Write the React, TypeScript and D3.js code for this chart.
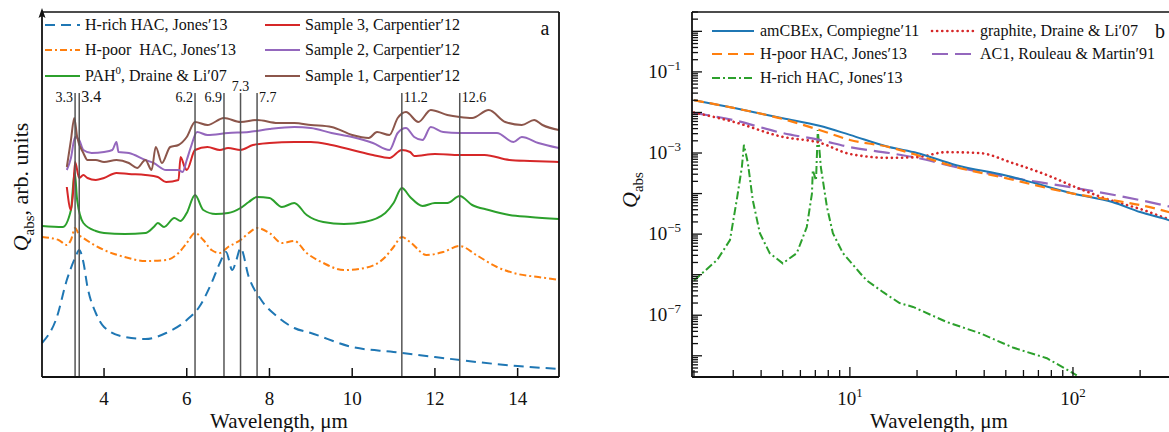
import React from 'react';
import * as d3 from 'd3';

const FONT = 'Liberation Serif';

// ---------- panel a (arb. units, curves offset) ----------
const bandCenters = [3.3, 3.4, 6.2, 6.9, 7.3, 7.7, 11.2, 12.6];
const bandLabels = ['3.3', '3.4', '6.2', '6.9', '7.3', '7.7', '11.2', '12.6'];
const xTicksA = [4, 6, 8, 10, 12, 14];

const hRichWl = [2.5, 2.86, 3.1, 3.3, 3.4, 3.5, 3.6, 3.8, 4.0, 4.5, 5.0, 5.5, 6.0, 6.3, 6.6, 6.8, 6.95, 7.1, 7.2, 7.3, 7.5, 7.8, 8.2, 8.6, 9.0, 10, 11, 12, 13, 14, 15];
const hRichVal = [3.4, 6.0, 9.7, 11.9, 12.7, 11.5, 9.0, 6.4, 5.0, 4.0, 3.8, 4.4, 5.7, 7.0, 9.4, 11.4, 12.5, 10.7, 11.7, 12.9, 10.0, 7.7, 6.0, 4.9, 4.4, 3.0, 2.5, 2.0, 1.5, 1.1, 0.8];

const hPoorWl = [2.5, 2.9, 3.1, 3.2, 3.3, 3.4, 3.5, 4.0, 4.5, 5.0, 5.5, 5.8, 6.0, 6.2, 6.4, 6.6, 6.8, 7.0, 7.3, 7.5, 7.7, 8.0, 8.3, 8.6, 8.9, 9.3, 9.8, 10.3, 10.8, 11.0, 11.2, 11.4, 11.8, 12.2, 12.6, 13.0, 13.5, 14.0, 14.5, 15.0];
const hPoorVal = [14.0, 13.7, 13.2, 13.7, 14.9, 14.2, 13.9, 12.7, 12.0, 11.6, 11.7, 12.4, 13.4, 14.4, 13.7, 12.7, 12.4, 13.0, 13.7, 14.4, 14.9, 14.4, 13.4, 13.6, 12.4, 11.4, 10.7, 10.9, 12.0, 13.0, 14.0, 13.5, 12.2, 12.5, 13.1, 12.2, 11.0, 10.3, 10.0, 9.7];

const pahWl = [2.5, 3.0, 3.2, 3.29, 3.35, 3.5, 3.8, 4.0, 4.5, 5.0, 5.2, 5.3, 5.45, 5.7, 5.85, 6.0, 6.2, 6.4, 6.7, 7.0, 7.3, 7.5, 7.7, 8.0, 8.3, 8.6, 8.9, 9.3, 9.8, 10.3, 10.8, 11.0, 11.2, 11.4, 11.7, 12.0, 12.3, 12.6, 12.9, 13.3, 13.8, 14.3, 15.0];
const pahVal = [15.1, 15.0, 16.7, 20.5, 17.7, 15.4, 14.6, 14.4, 14.3, 14.4, 15.0, 15.4, 15.0, 15.9, 15.6, 16.4, 18.2, 16.7, 16.3, 16.4, 16.9, 17.5, 18.0, 17.9, 17.0, 17.4, 16.2, 15.5, 15.3, 15.5, 16.4, 17.4, 18.9, 18.0, 17.1, 17.4, 17.4, 18.1, 17.2, 16.7, 16.2, 16.0, 15.8];

const sample3Wl = [3.1, 3.2, 3.25, 3.3, 3.4, 3.5, 3.6, 3.8, 4.0, 4.3, 4.6, 5.0, 5.3, 5.5, 5.8, 5.85, 5.95, 6.0, 6.2, 6.5, 6.8, 7.0, 7.3, 7.6, 8.0, 8.6, 9.0, 9.5, 10.0, 10.5, 10.9, 11.2, 11.4, 11.5, 12.0, 12.6, 13.2, 13.8, 14.3, 15.0];
const sample3Val = [19.0, 16.7, 18.4, 21.5, 19.9, 20.2, 19.9, 19.7, 19.9, 20.4, 20.3, 20.2, 20.0, 19.5, 19.7, 22.0, 21.0, 20.7, 22.7, 23.0, 22.7, 22.9, 22.7, 23.2, 23.4, 23.5, 23.5, 23.2, 22.7, 22.2, 21.9, 22.7, 22.5, 22.1, 22.3, 22.2, 22.2, 21.7, 21.6, 21.5];

const sample2Wl = [3.1, 3.2, 3.3, 3.4, 3.5, 3.7, 4.0, 4.2, 4.3, 4.35, 4.6, 5.0, 5.2, 5.5, 5.8, 5.9, 6.0, 6.1, 6.25, 6.5, 7.0, 7.5, 8.0, 8.6, 9.0, 9.5, 10.0, 10.5, 10.9, 11.1, 11.3, 11.5, 11.7, 11.9, 12.2, 12.6, 13.0, 13.5, 13.9, 14.1, 14.5, 15.0];
const sample2Val = [20.7, 21.9, 24.0, 23.7, 22.7, 22.4, 22.5, 22.7, 23.5, 22.5, 22.4, 21.7, 21.4, 20.7, 20.7, 20.5, 21.7, 23.0, 24.5, 24.2, 24.4, 24.5, 24.8, 25.0, 24.9, 24.4, 24.0, 23.4, 22.7, 24.4, 24.9, 24.0, 23.7, 25.0, 24.5, 24.4, 24.4, 24.4, 23.5, 24.0, 23.4, 22.9];

const sample1Wl = [3.1, 3.2, 3.28, 3.35, 3.5, 3.6, 3.8, 4.0, 4.3, 4.6, 4.8, 5.0, 5.15, 5.25, 5.4, 5.6, 5.8, 6.0, 6.2, 6.5, 6.9, 7.3, 7.7, 8.2, 8.6, 9.0, 9.5, 10.0, 10.4, 10.6, 10.9, 11.1, 11.3, 11.6, 11.9, 12.3, 12.6, 12.9, 13.3, 13.7, 14.1, 14.4, 14.6, 15.0];
const sample1Val = [21.0, 23.7, 25.9, 24.0, 22.4, 21.7, 21.7, 21.5, 21.7, 21.4, 20.9, 21.7, 20.7, 23.0, 21.4, 23.0, 23.2, 24.0, 25.5, 25.2, 25.9, 25.5, 25.7, 25.4, 25.4, 25.2, 25.0, 24.2, 23.9, 24.5, 24.2, 25.9, 26.5, 25.5, 26.7, 26.2, 26.0, 25.9, 26.7, 25.5, 25.2, 25.7, 25.2, 24.7];

// ---------- panel b (Q_abs, log-log) ----------
const amcbeWl = [2, 3, 5, 7.3, 10, 15, 20, 30, 50, 100, 150, 200, 270, 300];
const amcbeQ = [2.0e-2, 1.3e-2, 7.2e-3, 4.7e-3, 2.8e-3, 1.4e-3, 1.0e-3, 5.0e-4, 2.8e-4, 1.0e-4, 6.2e-5, 3.5e-5, 2.2e-5, 1.8e-5];

const hPoorBWl = [2, 3, 5, 7.3, 10, 15, 20, 30, 50, 100, 150, 200, 300];
const hPoorBQ = [2.0e-2, 1.3e-2, 6.9e-3, 3.7e-3, 2.1e-3, 1.4e-3, 8.9e-4, 4.5e-4, 2.4e-4, 1.0e-4, 6.9e-5, 5.2e-5, 3.0e-5];

const hRichBWl = [2.0, 2.54, 2.9, 3.11, 3.28, 3.35, 3.49, 3.67, 3.95, 4.37, 5.0, 5.78, 6.41, 6.76, 6.82, 7.05, 7.18, 7.41, 7.89, 8.39, 9.31, 11.1, 11.9, 14.1, 16.7, 19.2, 27.2, 38.3, 53.8, 76.4, 104];
const hRichBQ = [7.2e-7, 2.3e-6, 7.1e-6, 6.9e-5, 4.5e-4, 1.6e-3, 5.6e-4, 6.9e-5, 1.05e-5, 3.4e-6, 1.9e-6, 3.4e-6, 1.5e-5, 1.0e-4, 3.8e-4, 2.1e-4, 3.7e-3, 4.5e-4, 4.7e-5, 1.05e-5, 3.4e-6, 1.1e-6, 7.2e-7, 3.7e-7, 2.0e-7, 1.6e-7, 6.8e-8, 3.6e-8, 1.6e-8, 8.7e-9, 3.3e-9];

const graphiteWl = [2, 3, 5, 7.3, 10, 15, 20, 27, 38, 54, 76, 104, 147, 208, 260, 300];
const graphiteQ = [1.0e-2, 5.9e-3, 2.5e-3, 1.8e-3, 9.5e-4, 7.6e-4, 7.9e-4, 1.05e-3, 1.0e-3, 5.6e-4, 2.9e-4, 1.4e-4, 6.9e-5, 3.9e-5, 2.5e-5, 2.0e-5];

const ac1Wl = [2, 3, 5, 7.3, 10, 15, 20, 30, 50, 100, 200, 300];
const ac1Q = [9.8e-3, 6.5e-3, 3.1e-3, 2.1e-3, 1.4e-3, 1.0e-3, 7.6e-4, 4.5e-4, 2.6e-4, 1.4e-4, 6.9e-5, 4.2e-5];

const yLabelExpB = [-7, -5, -3, -1];
const xLabelExpB = [1, 2];

const C = {
  blue: '#1f77b4', orange: '#ff7f0e', green: '#2ca02c',
  red: '#d62728', purple: '#9467bd', brown: '#8c564b',
};

type Part = { t: string; sup?: boolean; sub?: boolean; it?: boolean };

const Rich = ({ x = 0, y = 0, parts, size, anchor = 'start', transform }:
  { x?: number; y?: number; parts: Part[]; size: number; anchor?: string; transform?: string }) => {
  let shift = 0;
  return (
    <text x={x} y={y} fontFamily={FONT} fontSize={size} textAnchor={anchor} fill="#111" transform={transform}>
      {parts.map((p, i) => {
        const target = p.sup ? -0.42 * size : p.sub ? 0.28 * size : 0;
        const dy = target - shift;
        shift = target;
        return (
          <tspan key={i} dy={dy !== 0 ? dy : undefined}
            fontSize={p.sup || p.sub ? size * 0.68 : undefined}
            fontStyle={p.it ? 'italic' : undefined}>{p.t}</tspan>
        );
      })}
    </text>
  );
};

// scales
const xA = d3.scaleLinear().domain([2.5, 15]).range([42, 559]);
const yA = d3.scaleLinear().domain([0, 36.5]).range([377, 12]);
const xB = d3.scaleLog().domain([1.96, 300]).range([692, 1179.4]);
const yB = d3.scaleLog().domain([3e-9, 3]).range([377, 12]);

const lineA = d3.line<[number, number]>().x(d => xA(d[0])).y(d => yA(d[1])).curve(d3.curveMonotoneX);
const lineB = d3.line<[number, number]>().x(d => xB(d[0])).y(d => yB(d[1])).curve(d3.curveMonotoneX);
const lineBLin = d3.line<[number, number]>().x(d => xB(d[0])).y(d => yB(d[1]));

const zip = (a: number[], b: number[]) => a.map((v, i) => [v, b[i]] as [number, number]);

const seriesA = [
  { wl: hRichWl, v: hRichVal, color: C.blue, dash: '10,6' },
  { wl: hPoorWl, v: hPoorVal, color: C.orange, dash: '7,3,2,3' },
  { wl: pahWl, v: pahVal, color: C.green, dash: undefined },
  { wl: sample3Wl, v: sample3Val, color: C.red, dash: undefined },
  { wl: sample2Wl, v: sample2Val, color: C.purple, dash: undefined },
  { wl: sample1Wl, v: sample1Val, color: C.brown, dash: undefined },
];

const seriesB = [
  { wl: hRichBWl, q: hRichBQ, color: C.green, dash: '8,3,2,3', w: 2, cap: 'butt', lin: true },
  { wl: ac1Wl, q: ac1Q, color: C.purple, dash: '16,7', w: 2.2, cap: 'butt', lin: false },
  { wl: graphiteWl, q: graphiteQ, color: C.red, dash: '0.1,5', w: 2.6, cap: 'round', lin: false },
  { wl: amcbeWl, q: amcbeQ, color: C.blue, dash: undefined, w: 2, cap: 'butt', lin: false },
  { wl: hPoorBWl, q: hPoorBQ, color: C.orange, dash: '10,6', w: 2.2, cap: 'butt', lin: false },
];

const legA = [
  { x: 45, y: 25, color: C.blue, dash: '10,6', parts: [{ t: 'H-rich HAC, Jones′13' }] },
  { x: 45, y: 50, color: C.orange, dash: '7,3,2,3', parts: [{ t: 'H-poor\u00a0 HAC, Jones′13' }] },
  { x: 45, y: 76, color: C.green, dash: undefined, parts: [{ t: 'PAH' }, { t: '0', sup: true }, { t: ', Draine & Li′07' }] },
  { x: 265, y: 25, color: C.red, dash: undefined, parts: [{ t: 'Sample 3, Carpentier′12' }] },
  { x: 265, y: 50, color: C.purple, dash: undefined, parts: [{ t: 'Sample 2, Carpentier′12' }] },
  { x: 265, y: 76, color: C.brown, dash: undefined, parts: [{ t: 'Sample 1, Carpentier′12' }] },
];

const legB = [
  { x: 712, y: 31, color: C.blue, dash: undefined, w: 2, cap: 'butt', text: 'amCBEx, Compiegne′11' },
  { x: 712, y: 54, color: C.orange, dash: '10,6', w: 2.2, cap: 'butt', text: 'H-poor HAC, Jones′13' },
  { x: 712, y: 78, color: C.green, dash: '8,3,2,3', w: 2, cap: 'butt', text: 'H-rich HAC, Jones′13' },
  { x: 932, y: 31, color: C.red, dash: '0.1,5', w: 2.6, cap: 'round', text: 'graphite, Draine & Li′07' },
  { x: 932, y: 54, color: C.purple, dash: '16,7', w: 2.2, cap: 'butt', text: 'AC1, Rouleau & Martin′91' },
];

// log ticks
const yTicksB: { v: number; major: boolean }[] = [];
for (let e = -9; e <= 0; e++) {
  for (let k = 1; k <= 9; k++) {
    const v = k * Math.pow(10, e);
    if (v >= 3e-9 && v <= 3) yTicksB.push({ v, major: k === 1 });
  }
}
const xTicksB: { v: number; major: boolean }[] = [];
for (let e = 0; e <= 2; e++) {
  for (let k = 1; k <= 9; k++) {
    const v = k * Math.pow(10, e);
    if (v >= 1.96 && v <= 300) xTicksB.push({ v, major: k === 1 });
  }
}

const ink = '#111';

const App = () => (
  <svg width={1169} height={432} style={{ position: 'absolute', left: 0, top: 0, background: '#fff' }}
    fontFamily={FONT}>
    <defs>
      <clipPath id="clipA"><rect x={42} y={12} width={517} height={365} /></clipPath>
      <clipPath id="clipB"><rect x={692} y={12} width={490} height={365} /></clipPath>
    </defs>

    {/* ===== panel a ===== */}
    <g clipPath="url(#clipA)">
      {seriesA.map((s, i) => (
        <path key={i} d={lineA(zip(s.wl, s.v)) || ''} fill="none" stroke={s.color}
          strokeWidth={2} strokeDasharray={s.dash} />
      ))}
    </g>

    {bandCenters.map((b, i) => {
      const lab = bandLabels[i];
      let x = xA(b) + 2, y = 102, anchor = 'start', size = 14;
      if (lab === '3.3' || lab === '6.2' || lab === '6.9') { x = xA(b) - 2; anchor = 'end'; }
      if (lab === '3.4') size = 16;
      if (lab === '7.3') { x = xA(b); y = 91; anchor = 'middle'; }
      return (
        <g key={lab}>
          <line x1={xA(b)} x2={xA(b)} y1={377} y2={93} stroke="#555" strokeWidth={1.5} />
          <text x={x} y={y} fontFamily={FONT} fontSize={size} textAnchor={anchor} fill={ink}>{lab}</text>
        </g>
      );
    })}

    <line x1={42} x2={559} y1={377} y2={377} stroke={ink} strokeWidth={1.8} />
    <line x1={559} x2={559} y1={12} y2={377} stroke={ink} strokeWidth={1.8} />
    <line x1={42} x2={559} y1={12} y2={12} stroke={ink} strokeWidth={1.5} />
    <line x1={42} x2={42} y1={377} y2={14} stroke={ink} strokeWidth={1.8} />
    <path d="M42,8 L38.5,18 L42,16 L45.5,18 Z" fill={ink} />

    {xTicksA.map(t => (
      <g key={t}>
        <line x1={xA(t)} x2={xA(t)} y1={377} y2={368} stroke={ink} strokeWidth={1.5} />
        <text x={xA(t)} y={405} fontFamily={FONT} fontSize={19} textAnchor="middle" fill={ink}>{t}</text>
      </g>
    ))}

    <Rich x={279} y={427.5} parts={[{ t: 'Wavelength, μm' }]} size={21} anchor="middle" />
    <Rich parts={[{ t: 'Q', it: true }, { t: 'abs', sub: true }, { t: ', arb. units' }]} size={22}
      anchor="middle" transform="translate(28,187) rotate(-90)" />
    <text x={545} y={35} fontFamily={FONT} fontSize={20} textAnchor="middle" fill={ink}>a</text>

    {legA.map((l, i) => (
      <g key={i}>
        <line x1={l.x} x2={l.x + 35} y1={l.y} y2={l.y} stroke={l.color} strokeWidth={2} strokeDasharray={l.dash} />
        <Rich x={l.x + 40} y={l.y + 5} parts={l.parts} size={16} />
      </g>
    ))}

    {/* ===== panel b ===== */}
    <g clipPath="url(#clipB)">
      {seriesB.map((s, i) => (
        <path key={i} d={(s.lin ? lineBLin : lineB)(zip(s.wl, s.q)) || ''} fill="none" stroke={s.color}
          strokeWidth={s.w} strokeLinecap={s.cap as any} strokeDasharray={s.dash} />
      ))}
    </g>

    <line x1={692} x2={1169} y1={377} y2={377} stroke={ink} strokeWidth={1.8} />
    <line x1={692} x2={1169} y1={12} y2={12} stroke={ink} strokeWidth={1.5} />
    <line x1={692} x2={692} y1={12} y2={377} stroke={ink} strokeWidth={1.8} />

    {yTicksB.map((t, i) => (
      <line key={i} x1={692} x2={692 + (t.major ? 10 : 6)} y1={yB(t.v)} y2={yB(t.v)} stroke={ink} strokeWidth={1.3} />
    ))}
    {yLabelExpB.map(e => (
      <Rich key={e} x={681} y={yB(Math.pow(10, e)) + 6} parts={[{ t: '10' }, { t: '−' + Math.abs(e), sup: true }]}
        size={19} anchor="end" />
    ))}

    {xTicksB.map((t, i) => (
      <line key={i} x1={xB(t.v)} x2={xB(t.v)} y1={377} y2={377 - (t.major ? 10 : 7)} stroke={ink} strokeWidth={1.3} />
    ))}
    {xLabelExpB.map(e => (
      <Rich key={e} x={xB(Math.pow(10, e))} y={405} parts={[{ t: '10' }, { t: String(e), sup: true }]}
        size={19} anchor="middle" />
    ))}

    <Rich x={939} y={427.5} parts={[{ t: 'Wavelength, μm' }]} size={21} anchor="middle" />
    <Rich parts={[{ t: 'Q', it: true }, { t: 'abs', sub: true }]} size={22} anchor="middle"
      transform="translate(637,190) rotate(-90)" />
    <text x={1160} y={38} fontFamily={FONT} fontSize={20} textAnchor="middle" fill={ink}>b</text>

    {legB.map((l, i) => (
      <g key={i}>
        <line x1={l.x} x2={l.x + 42} y1={l.y} y2={l.y} stroke={l.color} strokeWidth={l.w}
          strokeLinecap={l.cap as any} strokeDasharray={l.dash} />
        <Rich x={l.x + 48} y={l.y + 5} parts={[{ t: l.text }]} size={16} />
      </g>
    ))}
  </svg>
);

export default App;
